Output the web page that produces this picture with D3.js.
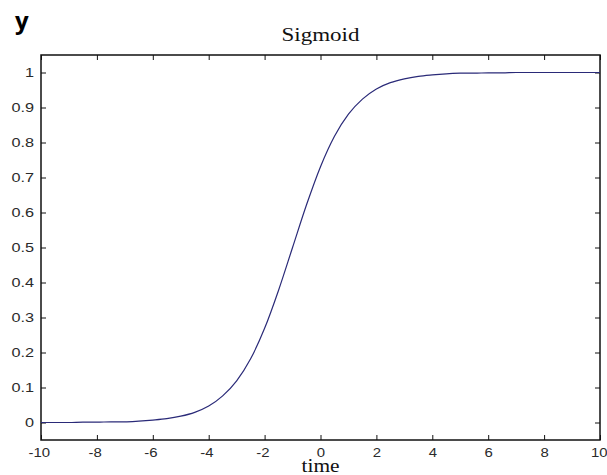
<!DOCTYPE html>
<html>
<head>
<meta charset="utf-8">
<script src="https://cdn.jsdelivr.net/npm/d3@7"></script>
<style>
  html, body { margin: 0; padding: 0; background: #fff; }
  svg { display: block; }
</style>
</head>
<body>
<svg id="chart" width="607" height="475"></svg>
<script>
// ---- data ----
const timeValues = [-10,-9.5,-9,-8.5,-8,-7.5,-7,-6.5,-6,-5.5,-5,-4.5,-4,-3.5,-3,-2.5,-2,-1.5,-1,-0.5,0,0.5,1,1.5,2,2.5,3,3.5,4,4.5,5,5.5,6,6.5,7,7.5,8,8.5,9,9.5,10];
const yValues = [0.000,0.000,0.000,0.001,0.001,0.002,0.002,0.004,0.007,0.011,0.018,0.029,0.047,0.076,0.119,0.182,0.269,0.378,0.500,0.622,0.731,0.818,0.881,0.924,0.953,0.971,0.982,0.989,0.993,0.996,0.998,0.998,0.999,0.999,1.000,1.000,1.000,1.000,1.000,1.000,1.000];
const xTickValues = [-10,-8,-6,-4,-2,0,2,4,6,8,10];
const yTickValues = [0,0.1,0.2,0.3,0.4,0.5,0.6,0.7,0.8,0.9,1];
const xDomain = [-10, 10];
const yDomain = [-0.05, 1.05];
const titleText = "Sigmoid";
const xLabelText = "time";
const yLabelText = "y";

// ---- layout ----
const L = 41, R = 600, T = 55, B = 440;
const svg = d3.select("#chart");
const x = d3.scaleLinear().domain(xDomain).range([L, R]);
const y = d3.scaleLinear().domain(yDomain).range([B, T]);
const sxX = 1.15, sxY = 1.25;
const tickFont = "'Liberation Sans', Arial, sans-serif";

// bottom axis
const gB = svg.append("g").attr("transform", `translate(0,${B})`)
  .call(d3.axisBottom(x).tickValues(xTickValues).tickSize(-5).tickPadding(8).tickFormat(d => String(d)));
// top axis
const gT = svg.append("g").attr("transform", `translate(0,${T})`)
  .call(d3.axisTop(x).tickValues(xTickValues).tickSize(-5).tickFormat(""));
// left axis
const gL = svg.append("g").attr("transform", `translate(${L},0)`)
  .call(d3.axisLeft(y).tickValues(yTickValues).tickSize(-5).tickPadding(7).tickFormat(d => String(+d.toFixed(1))));
// right axis
const gR = svg.append("g").attr("transform", `translate(${R},0)`)
  .call(d3.axisRight(y).tickValues(yTickValues).tickSize(-5).tickFormat(""));

[gB, gT, gL, gR].forEach(g => {
  g.select(".domain").remove();
  g.selectAll(".tick line").attr("stroke", "#111").attr("stroke-width", 1);
  g.selectAll(".tick text")
    .attr("font-family", tickFont)
    .attr("font-size", 13)
    .attr("fill", "#2a2a2a");
});
gB.selectAll(".tick text")
  .attr("transform", `scale(${sxX},1)`)
  .attr("dx", d => d < 0 ? -2 : (d === 10 ? -1 : 0));
gL.selectAll(".tick text")
  .attr("transform", `scale(${sxY},1)`)
  .attr("x", -7 / sxY);

// frame
svg.append("rect")
  .attr("x", L).attr("y", T).attr("width", R - L).attr("height", B - T)
  .attr("fill", "none").attr("stroke", "#111").attr("stroke-width", 1.5);

// curve
const pts = timeValues.map((t, i) => [t, yValues[i]]);
svg.append("path")
  .datum(pts)
  .attr("fill", "none")
  .attr("stroke", "#2a2a78")
  .attr("stroke-width", 1.2)
  .attr("d", d3.line().x(d => x(d[0])).y(d => y(d[1])).curve(d3.curveMonotoneX));

// title
svg.append("text")
  .attr("x", (L + R) / 2).attr("y", 41)
  .attr("text-anchor", "middle")
  .attr("font-family", "'Liberation Serif', 'Times New Roman', serif")
  .attr("font-size", 18)
  .attr("textLength", 78).attr("lengthAdjust", "spacingAndGlyphs")
  .attr("fill", "#111")
  .text(titleText);

// x label
svg.append("text")
  .attr("x", (L + R) / 2).attr("y", 472)
  .attr("text-anchor", "middle")
  .attr("font-family", "'Liberation Serif', 'Times New Roman', serif")
  .attr("font-size", 18)
  .attr("textLength", 38).attr("lengthAdjust", "spacingAndGlyphs")
  .attr("fill", "#111")
  .text(xLabelText);

// y label
svg.append("text")
  .attr("x", 15).attr("y", 29)
  .attr("font-family", "'Open Sans', 'DejaVu Sans', sans-serif")
  .attr("font-weight", "bold")
  .attr("font-size", 24)
  .attr("fill", "#000")
  .text(yLabelText);
</script>
</body>
</html>
